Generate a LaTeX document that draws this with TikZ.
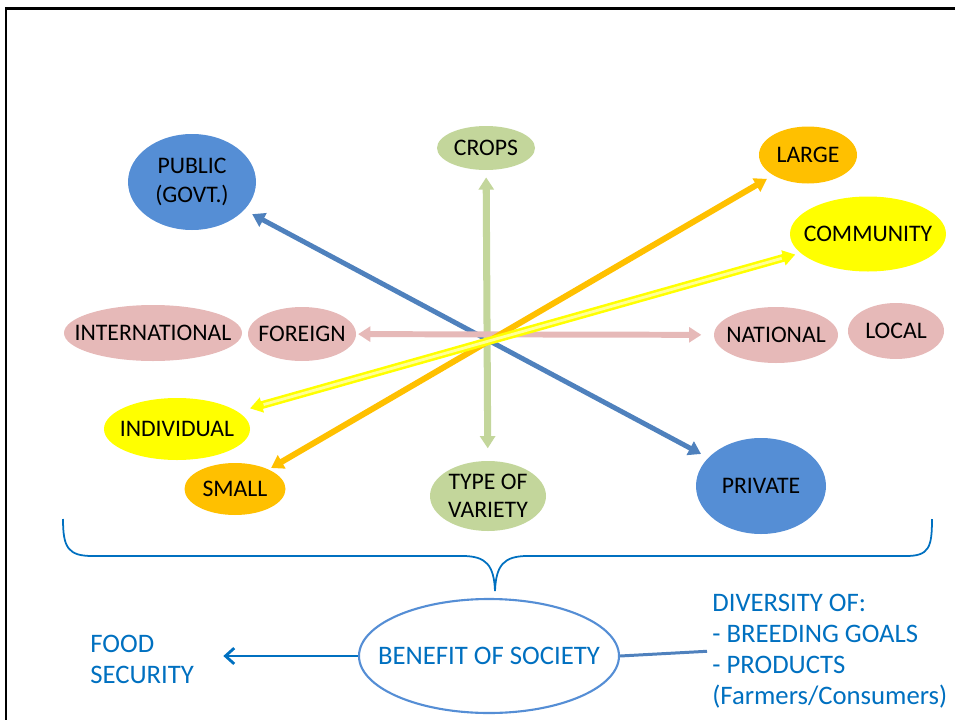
\documentclass[tikz,border=0pt]{standalone}
\usepackage{fontspec}
\setmainfont{Carlito}
\usepackage{xcolor}
\usepackage{tikz}
\usetikzlibrary{arrows.meta}
\usetikzlibrary{shapes}
\usetikzlibrary{shapes.geometric}

\definecolor{pubblue}{HTML}{558ED5}
\definecolor{armblue}{HTML}{4F81BD}
\definecolor{cropgreen}{HTML}{C3D69B}
\definecolor{sizeorange}{HTML}{FFC000}
\definecolor{ownyellow}{HTML}{FFFF00}
\definecolor{paleyellow}{HTML}{FFFF99}
\definecolor{originpink}{HTML}{E6B9B8}
\definecolor{textblue}{HTML}{0070C0}

\tikzset{
  blob/.style={ellipse, inner sep=0pt},
  every label/.style={align=center, inner sep=0pt, font=\fontsize{13.5}{16}\selectfont},
  twoway/.style={{Triangle[length=7pt, width=8.5pt]}-{Triangle[length=7pt, width=8.5pt]}},
  bluenote/.style={align=left, inner sep=0pt, text=textblue, font=\fontsize{15.2}{17.6}\selectfont},
}

\begin{document}
\begin{tikzpicture}
\useasboundingbox (0, 0) rectangle (19.1, -14.4);
\draw [line width=1.5pt] (0.12, -14.4) -- (0.12, -0.17) -- (19.1, -0.17);

% ellipses round the cross
\node [blob, fill=pubblue, minimum width=2.56cm, minimum height=1.92cm, label={center:PUBLIC\\(GOVT.)}] (PU) at (3.84, -3.64) {};
\node [blob, fill=pubblue, minimum width=2.60cm, minimum height=1.92cm, label={center:PRIVATE}] (PR) at (15.22, -9.72) {};
\node [blob, fill=cropgreen, minimum width=1.96cm, minimum height=0.88cm, label={center:CROPS}] (CR) at (9.72, -2.96) {};
\node [blob, fill=cropgreen, minimum width=2.32cm, minimum height=1.40cm, label={center:TYPE OF\\VARIETY}] (TV) at (9.76, -9.92) {};
\node [blob, fill=sizeorange, minimum width=1.96cm, minimum height=1.14cm, label={center:LARGE}] (LA) at (16.16, -3.10) {};
\node [blob, fill=sizeorange, minimum width=2.02cm, minimum height=1.04cm, label={center:SMALL}] (SM) at (4.70, -9.78) {};
\node [blob, fill=ownyellow, minimum width=3.12cm, minimum height=1.50cm, label={center:COMMUNITY}] (CO) at (17.36, -4.68) {};
\node [blob, fill=ownyellow, minimum width=2.92cm, minimum height=1.24cm, label={center:INDIVIDUAL}] (IV) at (3.54, -8.58) {};
\node [blob, fill=originpink, minimum width=3.56cm, minimum height=1.12cm, label={center:INTERNATIONAL}] (IT) at (3.06, -6.66) {};
\node [blob, fill=originpink, minimum width=2.16cm, minimum height=1.08cm, label={center:FOREIGN}] (FO) at (6.04, -6.68) {};
\node [blob, fill=originpink, minimum width=2.48cm, minimum height=1.12cm, label={center:NATIONAL}] (NA) at (15.52, -6.70) {};
\node [blob, fill=originpink, minimum width=1.92cm, minimum height=1.12cm, label={center:LOCAL}] (LO) at (17.92, -6.62) {};

% the cross
\draw [twoway, draw=armblue, fill=armblue, line width=2.8pt, shorten <=5pt, shorten >=4.5pt] (PU) to (PR);
\draw [twoway, draw=cropgreen, fill=cropgreen, line width=4pt, shorten <=4pt, shorten >=7pt] (CR) to (TV);
\draw [twoway, draw=originpink, fill=originpink, line width=3.4pt, shorten <=1pt, shorten >=7pt] (FO) to (NA);
\draw [twoway, draw=sizeorange, fill=sizeorange, line width=3.4pt, shorten <=1.5pt, shorten >=4pt] (SM) to (LA);
\draw [twoway, draw=ownyellow, fill=ownyellow, line width=4.5pt, shorten <=7pt, shorten >=3pt] (IV) to (CO);
\draw [draw=paleyellow, line width=1.6pt, shorten <=15pt, shorten >=11pt] (IV) to (CO);

% brace
\draw [draw=textblue, line width=1pt] (1.26, -10.38) .. controls (1.26, -10.95) and (1.36, -11.12) .. (1.85, -11.12)
  -- (9.25, -11.12) .. controls (9.72, -11.12) and (9.88, -11.30) .. (9.90, -11.82)
  .. controls (9.92, -11.30) and (10.08, -11.12) .. (10.55, -11.12)
  -- (18.12, -11.12) .. controls (18.58, -11.12) and (18.64, -10.95) .. (18.64, -10.38);

% bottom
\node [blob, draw=pubblue, line width=1.2pt, fill=white, minimum width=5.2cm, minimum height=2.28cm, label={[bluenote]center:BENEFIT OF SOCIETY}] (BS) at (9.78, -13.12) {};
\node [bluenote, anchor=west] (FS) at (1.80, -13.18) {FOOD\\SECURITY};
\node [bluenote, anchor=west] (DV) at (14.24, -13.02) {DIVERSITY OF:\\- BREEDING GOALS\\- PRODUCTS\\(Farmers/Consumers)};
\draw [-{Straight Barb[length=5pt, width=9pt]}, draw=textblue, line width=1.6pt, shorten >=0.58cm] (BS.west) -- (BS.west -| FS.east);
\draw [draw=armblue, line width=1.7pt, shorten >=0.1cm] (BS.east) -- (DV.west);
\end{tikzpicture}
\end{document}
